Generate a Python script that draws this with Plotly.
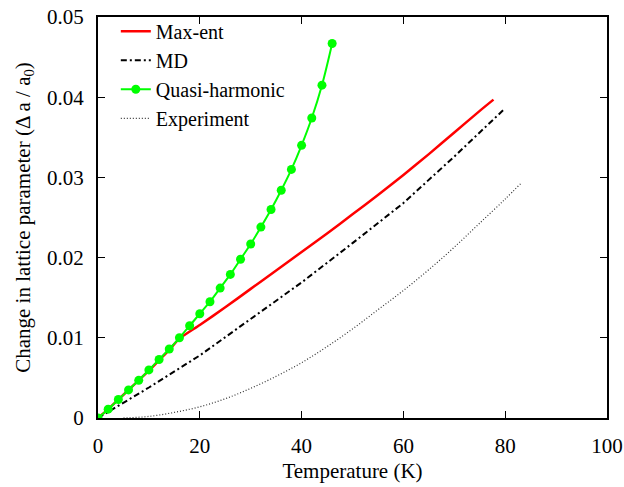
import plotly.graph_objects as go

# Quasi-harmonic (points every 2 K)
qh_T = [0, 2, 4, 6, 8, 10, 12, 14, 16, 18, 20, 22, 24, 26, 28, 30, 32, 34, 36, 38, 40, 42, 44, 46]
qh_y = [0.0000, 0.0011, 0.0023, 0.0035, 0.0047, 0.0060, 0.0073, 0.0086, 0.0100, 0.0115,
        0.0130, 0.0145, 0.0162, 0.0179, 0.0198, 0.0217, 0.0238, 0.0260, 0.0284, 0.0310,
        0.0340, 0.0374, 0.0415, 0.0467]

# Max-ent
me_T = [0, 2, 4, 6, 8, 10, 12, 14, 16, 20, 25, 30, 35, 40, 45, 50, 55, 60, 65, 70, 75, 77.7]
me_y = [0.0000, 0.0011, 0.0023, 0.0035, 0.0047, 0.0059, 0.0072, 0.0085, 0.0099, 0.0116,
        0.0138, 0.0161, 0.0184, 0.0207, 0.0230, 0.0254, 0.0278, 0.0303, 0.0329, 0.0356,
        0.0383, 0.0397]

# MD
md_T = [0, 10, 20, 30, 40, 50, 60, 70, 79.8]
md_y = [0.0000, 0.0038, 0.0078, 0.0124, 0.0169, 0.0218, 0.0268, 0.0326, 0.0385]

# Experiment
ex_T = [5, 10, 15, 20, 25, 30, 35, 40, 45, 50, 55, 60, 65, 70, 75, 80, 83]
ex_y = [0.0000, 0.0002, 0.0007, 0.0014, 0.0024, 0.0037, 0.0052, 0.0069, 0.0089, 0.0111,
        0.0135, 0.0159, 0.0185, 0.0213, 0.0243, 0.0273, 0.0292]

x_ticks = [0, 20, 40, 60, 80, 100]
y_ticks = [0, 0.01, 0.02, 0.03, 0.04, 0.05]
y_tick_text = ["0", "0.01", "0.02", "0.03", "0.04", "0.05"]

font = "Liberation Serif"
fs = 21

fig = go.Figure()
fig.add_trace(go.Scatter(x=me_T, y=me_y, mode="lines", name="Max-ent",
                         line=dict(color="#ff0000", width=2.5, shape="spline", smoothing=0.6)))
fig.add_trace(go.Scatter(x=md_T, y=md_y, mode="lines", name="MD",
                         line=dict(color="#000000", width=2, dash="6px,3px,2px,3px")))
fig.add_trace(go.Scatter(x=qh_T, y=qh_y, mode="lines+markers", name="Quasi-harmonic",
                         line=dict(color="#00ff00", width=2, shape="spline"),
                         marker=dict(color="#00ff00", size=9, symbol="circle")))
fig.add_trace(go.Scatter(x=ex_T, y=ex_y, mode="lines", name="Experiment",
                         line=dict(color="#333333", width=1.2, dash="1px,2px", shape="spline")))

axis_common = dict(showgrid=False, zeroline=False, showline=True, linecolor="black",
                   linewidth=2, mirror="ticks", ticks="inside", ticklen=7, tickwidth=1,
                   tickcolor="black", automargin=False,
                   tickfont=dict(family=font, size=fs, color="black"))

fig.update_xaxes(range=[0, 100], tickvals=x_ticks, ticklabelstandoff=8,
                 title=dict(text="Temperature (K)", font=dict(family=font, size=fs, color="black"),
                            standoff=6),
                 **axis_common)
fig.update_yaxes(range=[0, 0.05], tickvals=y_ticks, ticktext=y_tick_text, ticklabelstandoff=8,
                 title=dict(text="Change in lattice parameter (Δ a / a<sub>0</sub>)",
                            font=dict(family=font, size=fs, color="black"), standoff=11),
                 **axis_common)

fig.update_layout(
    width=624, height=487,
    margin=dict(l=98, r=17, t=17, b=69, autoexpand=False),
    plot_bgcolor="white", paper_bgcolor="white",
    font=dict(family=font, size=fs, color="black"),
    legend=dict(x=0.035, y=1.013, xanchor="left", yanchor="top",
                bgcolor="rgba(0,0,0,0)", font=dict(family=font, size=20, color="black"),
                tracegroupgap=0, itemwidth=30),
    showlegend=True,
)

fig.write_html("out.html")
